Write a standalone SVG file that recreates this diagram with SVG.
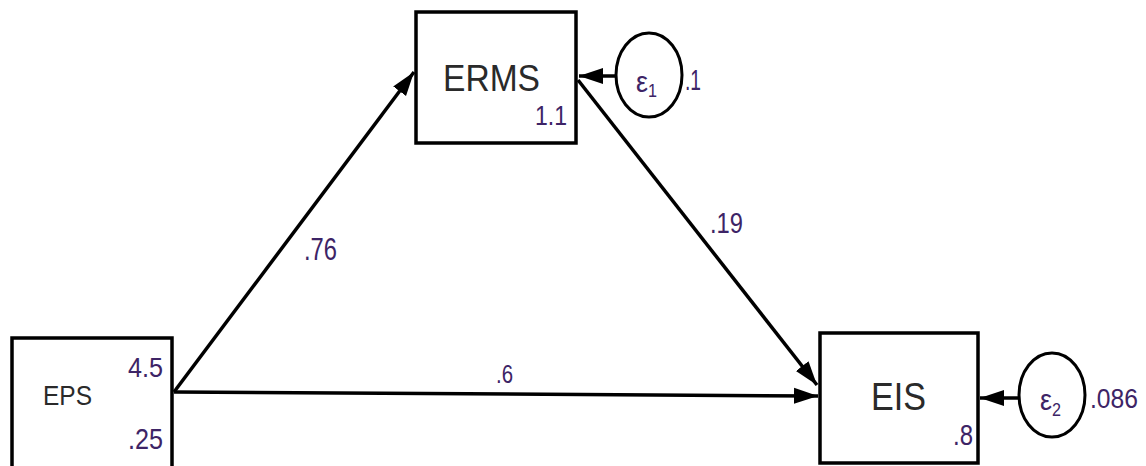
<svg xmlns="http://www.w3.org/2000/svg" width="1146" height="466" viewBox="0 0 1146 466">
<style>
.box{fill:#fff;stroke:#000;stroke-width:3.5}
.err{fill:#fff;stroke:#000;stroke-width:3}
.name{font-family:"Liberation Sans",Arial,sans-serif;fill:#2a2a2a}
.num{font-family:"Liberation Sans",Arial,sans-serif;fill:#3d2466}
.edge{stroke:#000;stroke-width:3.5;fill:none}
</style>
<defs>
<marker id="ah" markerUnits="userSpaceOnUse" markerWidth="26" markerHeight="18" refX="24" refY="9" orient="auto">
<path d="M0,1 L24,9 L0,17 Z" fill="#000"/>
</marker>
</defs>
<g id="connectors">
<path class="edge" d="M174,392 L414,72" marker-end="url(#ah)"/>
<path class="edge" d="M174,392 L818,396" marker-end="url(#ah)"/>
<path class="edge" d="M578,80 L817,385" marker-end="url(#ah)"/>
<path class="edge" d="M616,76 L579,76" marker-end="url(#ah)"/>
<path class="edge" d="M1019,398 L980,398" marker-end="url(#ah)"/>
<text class="num" x="304" y="260" font-size="31" textLength="33" lengthAdjust="spacingAndGlyphs">.76</text>
<text class="num" x="710" y="233" font-size="29" textLength="33" lengthAdjust="spacingAndGlyphs">.19</text>
<text class="num" x="496" y="383" font-size="26" textLength="17" lengthAdjust="spacingAndGlyphs">.6</text>
</g>
<g id="ERMS">
<rect class="box" x="416" y="12" width="160" height="131"/>
<text class="name" x="443" y="91" font-size="37" textLength="97" lengthAdjust="spacingAndGlyphs">ERMS</text>
<text class="num" x="535" y="125" font-size="28" textLength="32" lengthAdjust="spacingAndGlyphs">1.1</text>
</g>
<g id="e1">
<ellipse class="err" cx="649" cy="75" rx="33" ry="42"/>
<text class="num" x="636" y="92" font-size="29" textLength="12" lengthAdjust="spacingAndGlyphs">ε</text>
<text class="num" x="648" y="97" font-size="19" textLength="9" lengthAdjust="spacingAndGlyphs">1</text>
<text class="num" x="685" y="90" font-size="30" textLength="16" lengthAdjust="spacingAndGlyphs">.1</text>
</g>
<g id="EPS">
<rect class="box" x="12" y="338" width="160" height="132"/>
<text class="name" x="43" y="405" font-size="28" textLength="49" lengthAdjust="spacingAndGlyphs">EPS</text>
<text class="num" x="128" y="377" font-size="27" textLength="35" lengthAdjust="spacingAndGlyphs">4.5</text>
<text class="num" x="128" y="449" font-size="30" textLength="35" lengthAdjust="spacingAndGlyphs">.25</text>
</g>
<g id="EIS">
<rect class="box" x="820" y="333" width="158" height="130"/>
<text class="name" x="871" y="410" font-size="39" textLength="55" lengthAdjust="spacingAndGlyphs">EIS</text>
<text class="num" x="953" y="445" font-size="30" textLength="20" lengthAdjust="spacingAndGlyphs">.8</text>
</g>
<g id="e2">
<ellipse class="err" cx="1052" cy="395" rx="33" ry="42"/>
<text class="num" x="1040" y="410" font-size="29" textLength="12" lengthAdjust="spacingAndGlyphs">ε</text>
<text class="num" x="1052" y="416" font-size="19" textLength="9" lengthAdjust="spacingAndGlyphs">2</text>
<text class="num" x="1090" y="408" font-size="27" textLength="48" lengthAdjust="spacingAndGlyphs">.086</text>
</g>
</svg>
